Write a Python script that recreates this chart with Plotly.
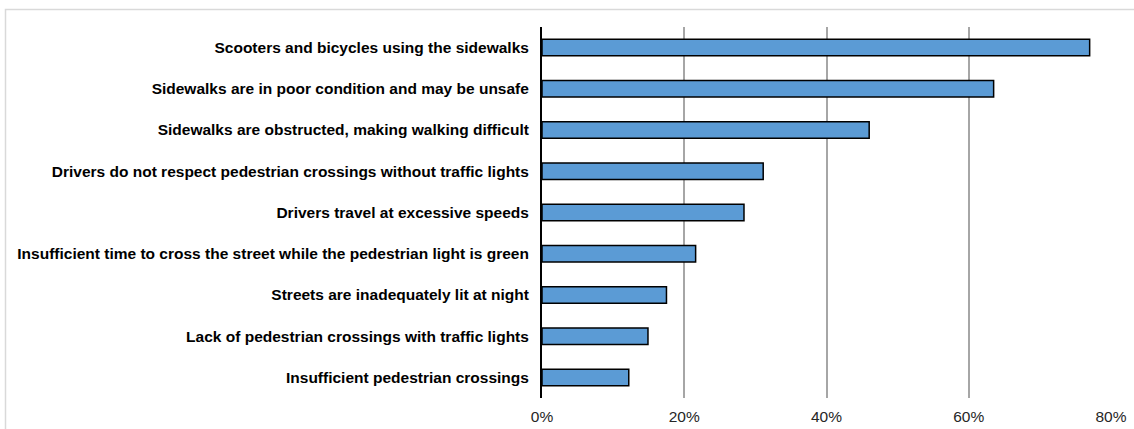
import plotly.graph_objects as go

# Survey: pedestrian problems, share of respondents (%)
categories = [
    "Scooters and bicycles using the sidewalks",
    "Sidewalks are in poor condition and may be unsafe",
    "Sidewalks are obstructed, making walking difficult",
    "Drivers do not respect pedestrian crossings without traffic lights",
    "Drivers travel at excessive speeds",
    "Insufficient time to cross the street while the pedestrian light is green",
    "Streets are inadequately lit at night",
    "Lack of pedestrian crossings with traffic lights",
    "Insufficient pedestrian crossings",
]
shares = [77.0, 63.5, 46.0, 31.1, 28.4, 21.6, 17.5, 14.9, 12.2]
tick_values = [0, 20, 40, 60, 80]
tick_labels = ["0%", "20%", "40%", "60%", "80%"]

W, H = 1134, 429
L, R, T, B = 542, 23, 27, 31
pw, ph = W - L - R, H - T - B

fig = go.Figure(
    go.Bar(
        x=shares,
        y=categories,
        orientation="h",
        width=0.4,
        marker=dict(color="#5b9bd5", line=dict(color="#000000", width=1.5)),
        hoverinfo="x+y",
    )
)

# light frame around the chart area
fig.add_shape(
    type="rect", xref="paper", yref="paper",
    x0=(5.5 - L) / pw, x1=(W + 20 - L) / pw,
    y0=-(B + 20) / ph, y1=(H - B - 9.5) / ph,
    line=dict(color="#d9d9d9", width=1.5), fillcolor="rgba(0,0,0,0)",
    layer="below",
)

fig.update_layout(
    width=W, height=H,
    margin=dict(l=L, r=R, t=T, b=B, pad=0, autoexpand=False),
    paper_bgcolor="white", plot_bgcolor="white",
    showlegend=False,
    font=dict(family="Liberation Sans, Arial, sans-serif", size=15.5, color="#1a1a1a"),
    xaxis=dict(
        range=[0, 80], tickmode="array", tickvals=tick_values, ticktext=tick_labels,
        showgrid=True, gridcolor="#a6a6a6", gridwidth=1.5,
        zeroline=False, showline=False, ticks="",
        ticklabelstandoff=7, automargin=False,
        tickfont=dict(family="Liberation Sans, Arial, sans-serif", size=15.5, color="#262626"),
    ),
    yaxis=dict(
        autorange="reversed",
        showline=True, linecolor="#000000", linewidth=2,
        showgrid=False, ticks="",
        ticklabelstandoff=8, automargin=False,
        tickfont=dict(family="Liberation Sans, Arial, sans-serif", size=15.5,
                      color="#000000", weight="bold"),
    ),
)

fig.write_html("out.html")
